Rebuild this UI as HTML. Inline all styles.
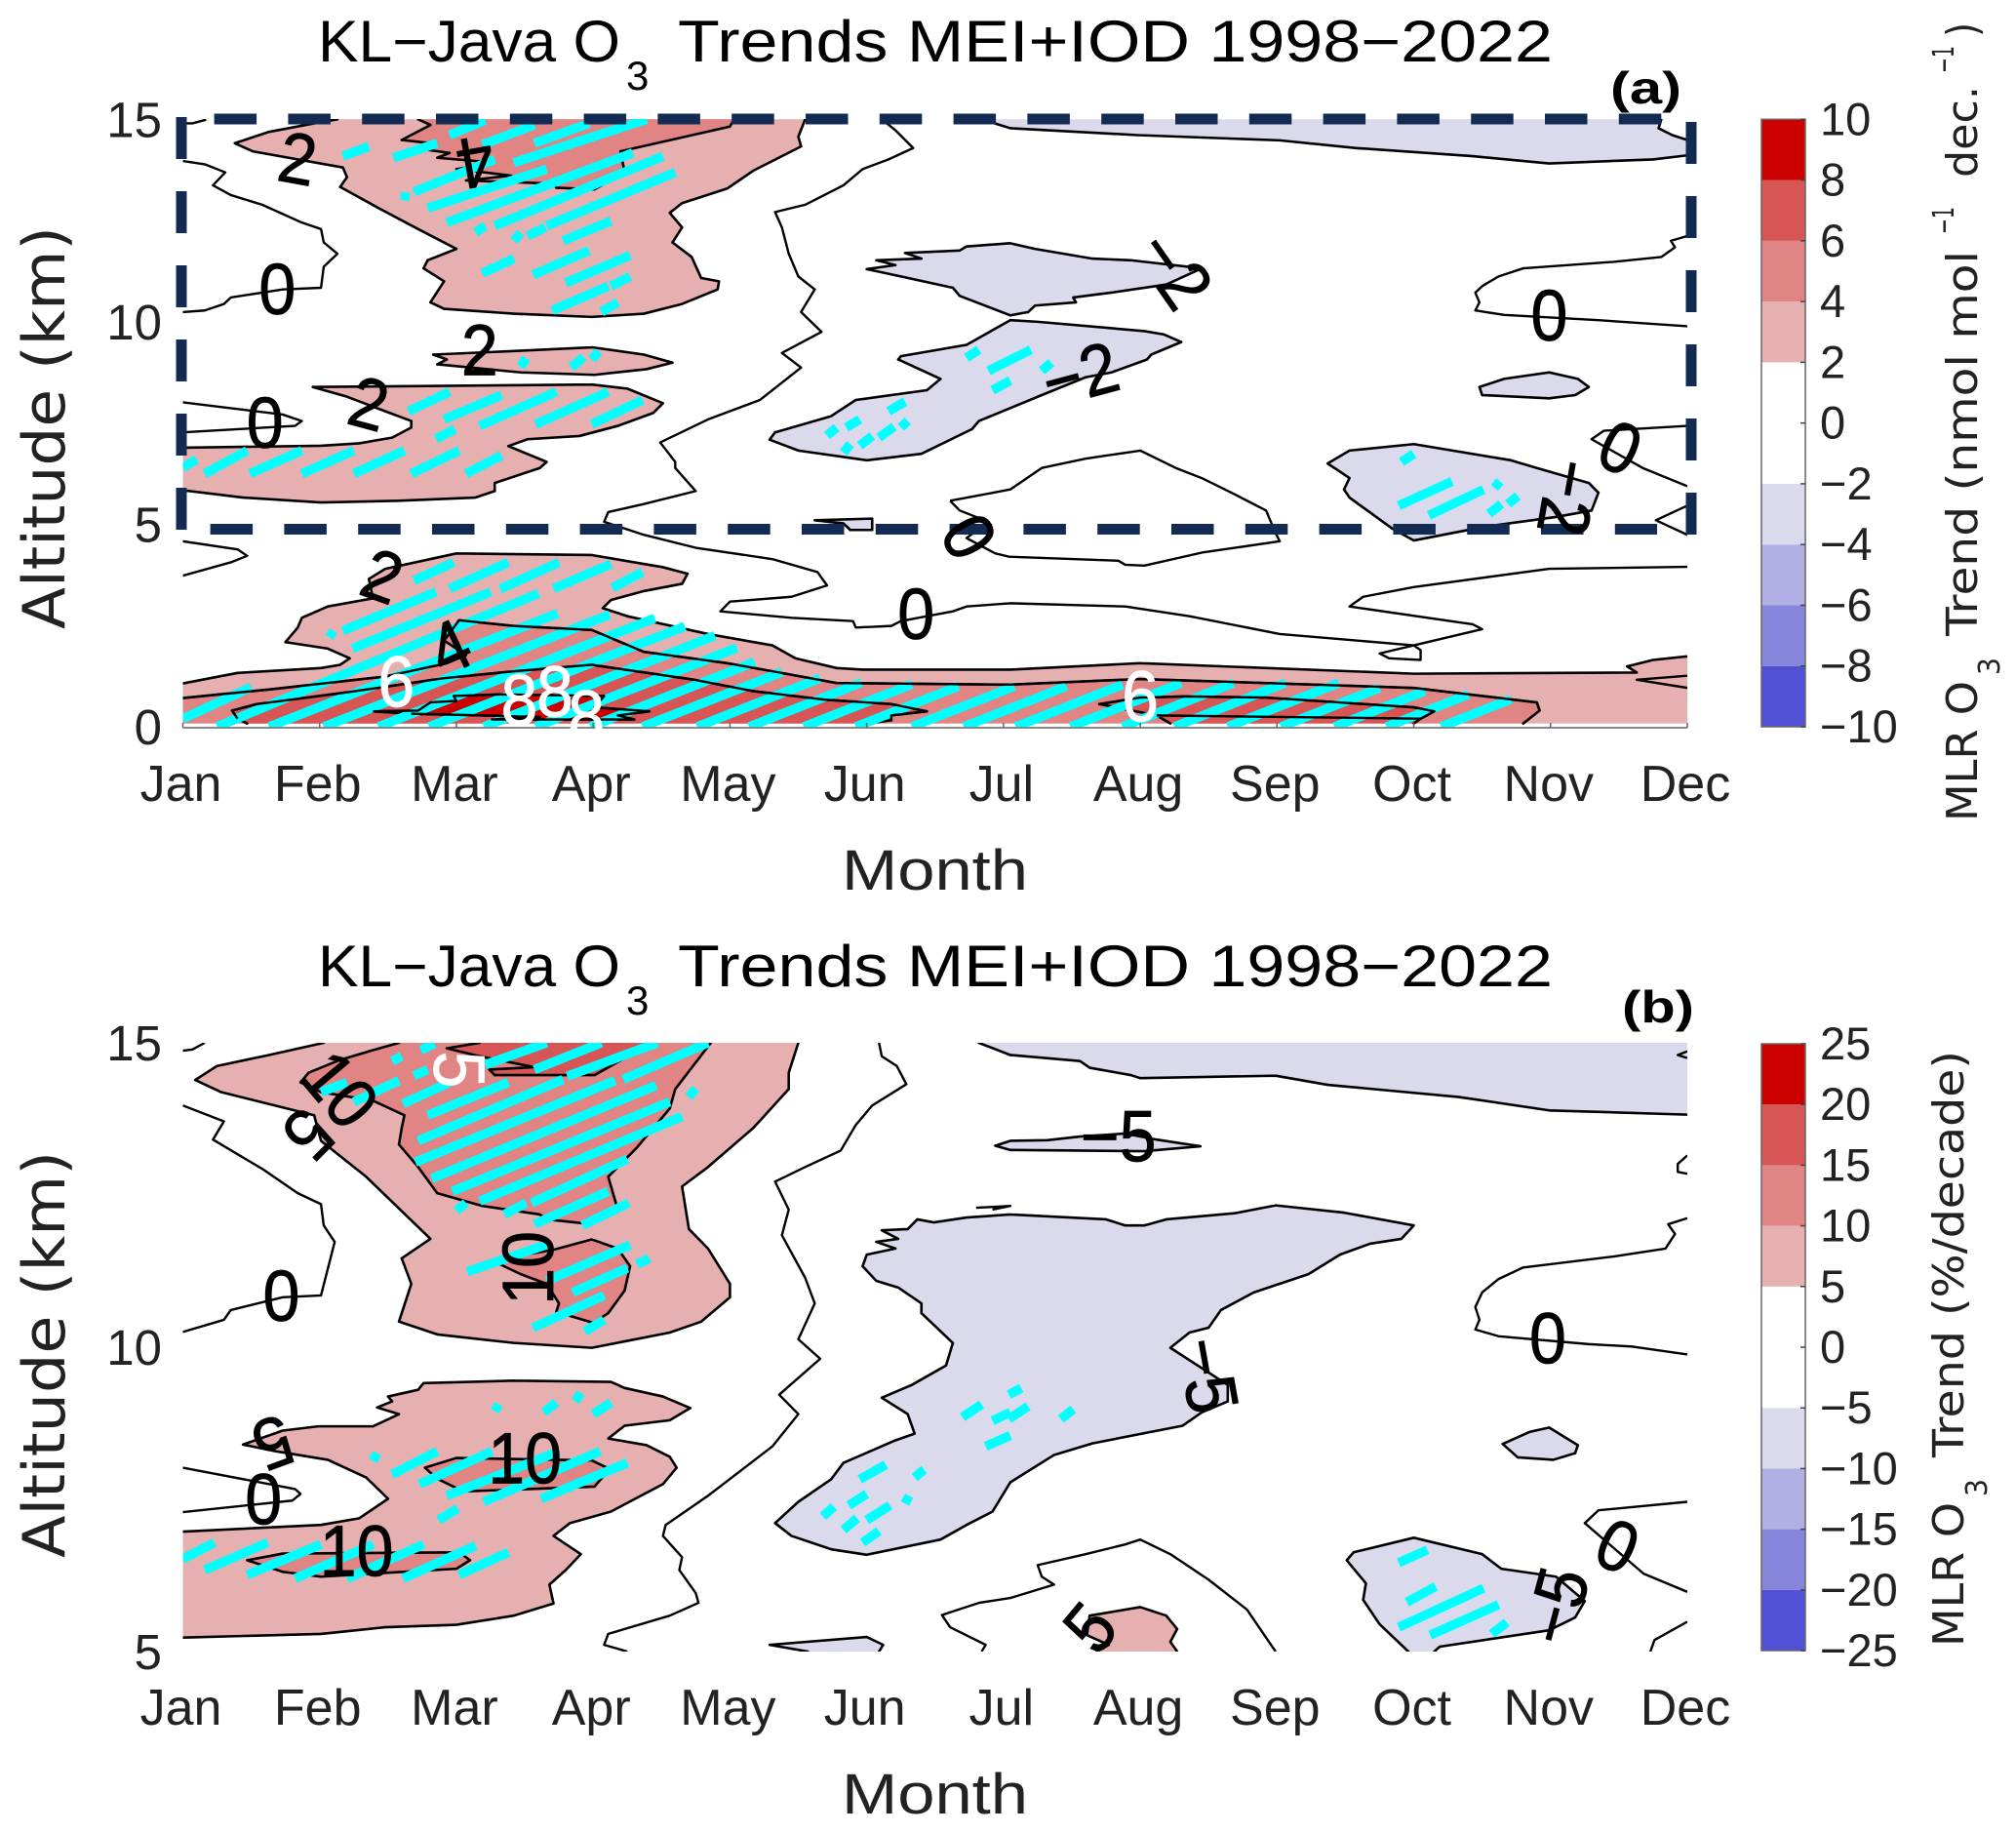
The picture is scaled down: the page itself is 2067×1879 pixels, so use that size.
<!DOCTYPE html>
<html lang="en">
<head>
<meta charset="utf-8">
<title>KL-Java O3 Trends MEI+IOD 1998-2022</title>
<style>
html,body{margin:0;padding:0;background:#fff;}
svg{display:block;}
text{font-family:"Liberation Sans",sans-serif;}
.dv{font-family:"DejaVu Sans",sans-serif;fill:#222;}
</style>
</head>
<body>
<svg id="chart" xmlns="http://www.w3.org/2000/svg" width="2067" height="1879" viewBox="0 0 2067 1879">
<rect width="2067" height="1879" fill="#fff"/>
<defs>
<clipPath id="clipA"><rect x="187.5" y="122" width="1542.5" height="623"/></clipPath>
<clipPath id="clipB"><rect x="187.5" y="1069" width="1542.5" height="624"/></clipPath>
</defs>
<g id="panelA"></g>
<g id="panelB"></g>
<g id="box" fill="none" stroke="#132B52" stroke-width="11">
<path d="M219.6 122H1704" stroke-dasharray="43.5 32.3"/>
<path d="M215.6 542.5H1699" stroke-dasharray="43.5 32.3"/>
<path d="M186 543V117" stroke-dasharray="43 33"/>
<path d="M1734 548V123" stroke-dasharray="43 33"/>
</g>
<g id="labelsLayer"></g>
<g id="ticksLayer"></g>

<g fill="#000">
<text x="326" y="63" font-size="60" textLength="310" lengthAdjust="spacingAndGlyphs">KL−Java O</text>
<text x="642" y="92" font-size="42">3</text>
<text x="695" y="63" font-size="60" textLength="897" lengthAdjust="spacingAndGlyphs">Trends MEI+IOD 1998−2022</text>
</g>
<g fill="#000">
<text x="326" y="1011" font-size="60" textLength="310" lengthAdjust="spacingAndGlyphs">KL−Java O</text>
<text x="642" y="1040" font-size="42">3</text>
<text x="695" y="1011" font-size="60" textLength="897" lengthAdjust="spacingAndGlyphs">Trends MEI+IOD 1998−2022</text>
</g>
<text x="1651" y="106" font-size="46" font-weight="700" textLength="73" lengthAdjust="spacingAndGlyphs">(a)</text>
<text x="1663" y="1048" font-size="46" font-weight="700" textLength="74" lengthAdjust="spacingAndGlyphs">(b)</text>

<text x="863" y="912" font-size="58" fill="#222" textLength="191" lengthAdjust="spacingAndGlyphs">Month</text>
<text x="863" y="1859" font-size="58" fill="#222" textLength="191" lengthAdjust="spacingAndGlyphs">Month</text>
<text class="dv" transform="translate(66,645) rotate(-90)" font-size="60" textLength="413" lengthAdjust="spacingAndGlyphs">Altitude (km)</text>
<text class="dv" transform="translate(66,1597) rotate(-90)" font-size="60" textLength="417" lengthAdjust="spacingAndGlyphs">Altitude (km)</text>

<g class="dv">
<text class="dv" transform="translate(2027,842) rotate(-90)" font-size="44" textLength="144" lengthAdjust="spacingAndGlyphs">MLR O</text>
<text class="dv" transform="translate(2050,692) rotate(-90)" font-size="30" textLength="18" lengthAdjust="spacingAndGlyphs">3</text>
<text class="dv" transform="translate(2027,652) rotate(-90)" font-size="44" textLength="395" lengthAdjust="spacingAndGlyphs">Trend (nmol mol</text>
<text class="dv" transform="translate(2003,240) rotate(-90)" font-size="30" textLength="28" lengthAdjust="spacingAndGlyphs">−1</text>
<text class="dv" transform="translate(2027,182) rotate(-90)" font-size="44" textLength="94" lengthAdjust="spacingAndGlyphs">dec.</text>
<text class="dv" transform="translate(2003,75) rotate(-90)" font-size="30" textLength="28" lengthAdjust="spacingAndGlyphs">−1</text>
<text class="dv" transform="translate(2027,38) rotate(-90)" font-size="44" textLength="15" lengthAdjust="spacingAndGlyphs">)</text>
</g>
<g>
<text class="dv" transform="translate(2013,1688) rotate(-90)" font-size="44" textLength="148" lengthAdjust="spacingAndGlyphs">MLR O</text>
<text class="dv" transform="translate(2037,1534) rotate(-90)" font-size="30" textLength="18" lengthAdjust="spacingAndGlyphs">3</text>
<text class="dv" transform="translate(2013,1494) rotate(-90)" font-size="44" textLength="417" lengthAdjust="spacingAndGlyphs">Trend (%/decade)</text>
</g>
</svg>

<script>
/* ---------- axis / category data ---------- */
const months = ['Jan','Feb','Mar','Apr','May','Jun','Jul','Aug','Sep','Oct','Nov','Dec'];
const altTicksA = [0,5,10,15];
const altTicksB = [5,10,15];
const cbarLevelsA = [-10,-8,-6,-4,-2,2,4,6,8,10];
const cbarTicksA = [-10,-8,-6,-4,-2,0,2,4,6,8,10];
const cbarLevelsB = [-25,-20,-15,-10,-5,5,10,15,20,25];
const cbarTicksB = [-25,-20,-15,-10,-5,0,5,10,15,20,25];
const cbarBandColors = ['#5050D4','#8585DC','#B0B0E4','#DADAEC','#FFFFFF','#E6B0B0','#E08484','#D85555','#CC0000'];

/* ---------- panel (a) filled contour regions: [month, km] ---------- */
const aPos2Upper = [[2.13,15],[1.96,14.9],[1.63,14.69],[1.38,14.41],[1.51,14.21],[2.17,13.81],[2.2,13.57],[2.15,13.33],[2.43,12.81],[2.72,12.29],[3,11.8],[2.79,11.52],[2.76,11.32],[2.91,11],[2.81,10.48],[2.91,10.32],[3.42,10.2],[3.99,10.12],[4.37,10.2],[4.65,10.44],[4.91,10.8],[4.92,11],[4.79,11.08],[4.72,11.6],[4.58,11.96],[4.65,12.33],[4.56,12.69],[4.65,12.93],[4.98,13.29],[5.17,13.73],[5.52,14.33],[5.5,14.57],[5.55,15]];
const aPos4Upper = [[2.72,15],[2.81,14.86],[2.6,14.49],[2.81,14.41],[2.69,14.29],[2.95,14.17],[2.86,14.05],[3.28,13.93],[3,13.77],[3.4,13.61],[3.07,13.49],[3.71,13.41],[3.73,13.31],[4.01,13.27],[4.23,13.69],[4.2,14.21],[5,14.82],[5.03,15]];
const aPos2Thin = [[2.83,9.19],[3.5,9.29],[3.99,9.37],[4.37,9.19],[4.58,8.99],[4.39,8.83],[4.01,8.69],[3.47,8.75],[2.86,8.95],[2.93,9.07]];
const aPos2Mid = [[1,6.89],[2.01,6.94],[2.29,7],[2.53,7.14],[2.67,7.39],[2.67,7.55],[2.48,7.79],[2.2,8.15],[1.95,8.39],[3.99,8.45],[4.25,8.35],[4.51,7.99],[4.44,7.75],[4.18,7.43],[3.9,7.18],[3.52,7.1],[3.38,6.93],[3.66,6.54],[3.61,6.39],[3.28,6.02],[3.28,5.82],[3.14,5.66],[2.58,5.58],[2.01,5.54],[1.44,5.66],[1,5.84]];
const aPos2Lower = [[1,1.07],[1.4,1.33],[2.01,1.45],[2.15,1.53],[2.22,1.69],[2.06,1.93],[1.75,2.09],[1.84,2.45],[1.87,2.69],[2.06,2.97],[2.39,3.17],[2.36,3.65],[2.48,3.9],[3,4.28],[3.99,4.24],[4.51,3.94],[4.69,3.78],[4.65,3.53],[4.37,3.35],[4.13,3.13],[4.07,2.93],[4.25,2.73],[4.84,2.29],[5.31,2.01],[5.48,1.69],[5.78,1.45],[5.97,1.41],[7.05,1.41],[8,1.57],[10,1.31],[11.63,1.34],[11.56,1.49],[11.75,1.65],[12,1.74],[12,0.08],[1,0.08]];
const aPos4Lower = [[1,0.71],[1.63,0.92],[2.48,1.24],[2.93,1.57],[3.07,1.77],[2.91,2.13],[3.02,2.63],[3.42,2.49],[3.99,2.39],[4.37,1.85],[4.98,1.57],[5.31,1.37],[5.78,1.08],[7.05,1.04],[8,1.18],[10,0.96],[10.9,0.6],[10.92,0.4],[10.8,0.08],[1,0.08]];
const aPos6Left = [[1.47,0.08],[1.4,0.2],[1.36,0.4],[1.54,0.56],[2.22,0.86],[2.91,1.2],[3.42,1.37],[3.99,1.53],[4.74,1.16],[5.17,0.88],[5.69,0.67],[6.18,0.56],[6.44,0.38],[6.18,0.28],[6.18,0.16],[6,0.08]];
const aPos6Right = [[7.7,0.56],[8,0.72],[8.33,0.75],[8.92,0.72],[10,0.48],[10.15,0.38],[10.05,0.2],[10,0.08],[8.22,0.08],[8.12,0.28]];
const aPos8 = [[2.39,0.38],[2.72,0.4],[2.81,0.6],[3,0.64],[2.98,0.76],[3.33,0.8],[4.08,0.76],[4.01,0.48],[4.41,0.38],[4.18,0.28],[4.3,0.18],[3.26,0.18],[3.61,0.24],[3.19,0.28],[2.67,0.32]];
const aNeg2Top = [[6.84,15],[7.05,14.78],[7.98,14.61],[9.02,14.48],[9.58,14.29],[10.43,14.09],[10.99,13.91],[11.75,14.01],[12,14.11],[12,14.49],[11.89,14.61],[11.79,14.78],[11.81,15]];
const aNeg2Upper = [[6.07,11.52],[6.4,11.56],[6.28,11.7],[6.68,11.76],[6.73,11.86],[7.05,11.94],[7.23,11.8],[7.65,11.56],[7.93,11.52],[8.45,11.32],[8.19,10.92],[7.79,10.72],[7.51,10.6],[7.53,10.48],[7.23,10.4],[7.18,10.24],[7.05,10.16],[6.68,10.64],[6.63,10.84],[6.25,11.12],[6,11.3],[6.21,11.4]];
const aNeg2Lower = [[7.05,10.04],[6.73,9.43],[6.25,9.15],[6.23,9.07],[6.54,8.59],[6.44,8.31],[5.92,8.07],[5.74,7.67],[5.33,7.27],[5.29,7.09],[5.5,6.82],[6,6.58],[6.4,6.74],[6.77,7.35],[6.82,7.55],[7.05,7.87],[7.28,8.19],[7.6,8.63],[7.79,8.75],[8.05,9.07],[8.08,9.19],[8.3,9.5],[8.17,9.69],[8.03,9.77],[7.25,10]];
const aNeg2Small = [[10.48,8.39],[10.66,8.59],[10.99,8.75],[11.2,8.59],[11.28,8.39],[11.18,8.19],[10.99,8.11],[10.5,8.19]];
const aNeg2Right = [[9.37,6.5],[9.53,6.82],[10,6.98],[10.71,6.58],[10.9,6.39],[11.28,6.02],[11.35,5.78],[11.3,5.34],[11.04,5.18],[10.52,4.94],[10,4.6],[9.84,4.9],[9.53,5.66],[9.49,5.86],[9.53,6.14],[9.42,6.39]];
const aNeg2Tiny = [[5.62,5.1],[6.04,5.14],[6.04,4.86],[5.88,4.86],[5.83,5.02]];

/* ---------- panel (a) zero contours ---------- */
const aZeroCorner = [[1,14.9],[1.07,14.9],[1.17,14.99]];
const aZeroLeftUpper = [[1,13.97],[1.16,13.89],[1.31,13.69],[1.22,13.37],[1.35,13.13],[1.58,12.89],[1.87,12.45],[2.01,12.29],[2.03,11.96],[2.13,11.68],[2.03,11.36],[2.01,10.84],[1.73,10.8],[1.35,10.6],[1.3,10.44],[1.16,10.28],[1,10.24]];
const aZeroLeftNose = [[1,8.01],[1.73,7.71],[1.87,7.55],[1.82,7.43],[1,7.27]];
const aZeroCentral = [[6.11,15],[6.21,14.73],[6.34,14.29],[6.16,14.01],[5.97,13.77],[5.83,13.37],[5.55,12.89],[5.33,12.71],[5.38,12.33],[5.43,11.68],[5.5,11.12],[5.62,10.8],[5.52,10.24],[5.67,9.75],[5.38,9.23],[5.52,8.87],[5.22,8.07],[4.84,7.59],[4.49,7.02],[4.6,6.54],[4.6,6.39],[4.75,5.82],[4.37,5.5],[4.11,5.3],[4.08,5.06],[4.37,4.74],[4.75,4.42],[5.31,4.14],[5.64,3.82],[5.71,3.49],[5.45,3.21],[5,3.09],[4.93,2.85],[5.45,2.69],[5.9,2.61],[5.92,2.45],[6.18,2.49],[6.25,2.61],[6.63,2.85],[6.73,2.97],[7.05,3.05],[7.89,2.97],[8.36,2.73],[9.02,2.29],[10,2.01],[10.5,2.41],[10.43,2.53],[9.53,2.97],[9.63,3.21],[10,3.45],[10.99,3.9],[12,3.95]];
const aZeroLoop = [[10,2.01],[9.75,1.81],[9.82,1.69],[10.05,1.65],[10.05,1.89],[10,2.01]];
const aZeroLowLeft = [[1,4.58],[1.4,4.38],[1.47,4.22],[1.35,4.06],[1,3.73]];
const aZeroBubble = [[6.61,5.58],[7.05,5.86],[7.28,6.39],[7.6,6.62],[8,6.82],[8.26,6.39],[8.45,6.14],[8.69,5.74],[8.92,5.34],[8.99,4.78],[9.02,4.58],[8.45,4.3],[8.03,3.98],[7.89,4],[7.84,4.1],[7.04,4.2],[6.94,4.28],[6.73,4.66],[6.89,5.06],[6.68,5.34],[6.61,5.58]];
const aZeroRightUpper = [[12,12.12],[11.88,12],[11.91,11.84],[11.81,11.6],[11.46,11.48],[10.8,11.32],[10.62,11.12],[10.5,10.88],[10.45,10.72],[10.48,10.48],[10.45,10.28],[10.66,10.17],[11.35,10.04],[12,9.89]];
const aZeroRightNose = [[12,7.43],[11.39,7.31],[11.3,7.1],[11.68,6.38],[12,5.94]];
const aZeroRightTip = [[12,5.46],[11.77,5.1],[12,4.74]];
const aLevelNotch = [[12,1.26],[11.63,1.16],[12,0.96]];

/* ---------- panel (a) significance stripes: [m1, km1, m2, km2] ---------- */
const aHatchUpper = [[2.17,14.09,2.36,14.33],[2.54,14.05,2.86,14.41],[2.95,14.61,3.21,14.98],[3.19,14.37,3.57,14.86],[3.57,14.41,3.97,14.9],[3.42,13.93,4.39,15],[2.69,13.21,3.28,14.01],[2.79,12.81,3.66,13.77],[2.93,12.45,4.29,14.17],[3.28,12.37,4.51,14.09],[3.66,12.37,4.6,13.69],[3.78,12,4.13,12.49],[3.19,11.2,3.42,11.56],[3.56,11.16,3.97,11.76],[3.8,10.96,4.27,11.64],[3.7,10.28,4.11,10.88],[4.13,10.88,4.27,11.12],[4.06,10.24,4.18,10.48],[3.14,12.2,3.21,12.37],[3.42,12,3.47,12.2],[3.52,12.12,3.65,12.33],[2.62,13,2.63,13.2],[3.47,8.89,3.51,9.1],[3.84,8.87,3.93,9.13],[3.99,9.07,4.04,9.27]];
const aHatchMid = [[2.65,7.79,2.95,8.27],[2.91,7.59,3.33,8.19],[3.17,7.43,3.73,8.27],[3.58,7.47,4.11,8.27],[3.99,7.47,4.36,8.07],[2.85,7.11,2.99,7.35],[1,6.4,1.1,6.6],[1.16,6.25,1.47,6.82],[1.49,6.25,1.87,6.82],[1.87,6.25,2.25,6.82],[2.25,6.25,2.62,6.82],[2.67,6.25,3.02,6.82],[3.07,6.25,3.33,6.7]];
const aHatchLowerTop = [[2.69,3.61,2.98,4.06],[2.95,3.41,3.38,4.06],[3.32,3.4,3.75,4.06],[3.71,3.41,4.13,4.02],[4.14,3.43,4.36,3.82],[2.17,2.37,2.85,3.33],[2.24,1.93,3.25,3.33],[2.07,2.21,2.1,2.37]];
const aHatchSurface = [[1,0.2,1.5,0.98],[1.25,0,3.6,3.29],[1.63,0,3.74,2.8],[2.03,0,4.12,2.77],[2.43,0,4.45,2.68],[2.8,0,4.67,2.48],[3.2,0,4.89,2.25],[3.58,0,5.05,1.95],[3.98,0,5.18,1.6],[4.36,0,5.38,1.35],[4.76,0,5.66,1.2],[5.14,0,5.96,1.09],[5.54,0,6.33,1.05],[5.92,0,6.67,1],[6.33,0,7.08,1],[6.71,0,7.46,1],[7.09,0,7.87,1.04],[7.49,0,8.3,1.08],[7.87,0,8.68,1.08],[8.25,0,9.06,1.08],[8.64,0,9.45,1.08],[9.03,0,9.75,0.96],[9.42,0,10.08,0.88],[9.8,0,10.4,0.8],[10.2,0,10.71,0.68]];
const aHatchNeg = [[5.71,7.19,5.78,7.39],[5.85,7.39,5.95,7.59],[5.95,6.94,6.04,7.18],[6.09,7.14,6.2,7.41],[6.25,7.39,6.3,7.55],[6.16,7.79,6.28,8.03],[5.83,6.77,5.88,6.98],[6.73,9.11,6.82,9.31],[6.89,8.79,7.2,9.31],[6.92,8.31,7.05,8.55],[7.28,8.79,7.35,8.99],[9.91,6.54,10,6.74],[9.89,5.46,10.28,6.06],[10.11,5.22,10.51,5.86],[10.55,5.26,10.64,5.5],[10.69,5.5,10.76,5.7],[10.59,5.9,10.63,6.06]];

/* ---------- panel (a) inline labels: [text, month, km, rotation, colour] ---------- */
const aLabels = [['2',1.84,14.04,10,'#000'],['4',3.14,13.93,170,'#000'],['0',1.69,10.82,0,'#000'],['2',3.17,9.31,0,'#000'],['2',2.36,7.99,15,'#000'],['0',1.6,7.52,0,'#000'],['4',2.95,1.98,-25,'#000'],['2',2.46,3.73,20,'#000'],['6',2.56,1.12,0,'#fff'],['8',3.46,0.68,0,'#fff'],['8',3.72,0.88,0,'#fff'],['8',3.95,0.28,0,'#fff'],['6',8,0.76,0,'#fff'],['0',6.36,2.8,0,'#000'],['0',6.75,4.7,60,'#000'],['−2',8.25,11.3,55,'#000'],['−2',7.56,8.71,-15,'#000'],['0',10.99,10.16,0,'#000'],['0',11.51,6.9,25,'#000'],['−2',11.13,5.66,100,'#000']];

/* ---------- panel (b) filled contour regions ---------- */
const bPos5Upper = [[2.03,15],[1.63,14.8],[1.25,14.62],[1.09,14.39],[1.28,14.19],[1.96,13.81],[2.01,13.39],[2.34,12.8],[2.81,11.78],[2.6,11.46],[2.67,11.04],[2.58,10.42],[2.86,10.21],[3.42,10.07],[3.99,9.99],[4.56,10.24],[4.79,10.42],[5,10.82],[5,11.04],[4.84,11.62],[4.7,11.94],[4.65,12.64],[4.84,12.96],[5.17,13.6],[5.43,14.24],[5.43,14.51],[5.5,15]];
const bPos10Upper = [[2.58,15],[2.39,14.88],[2.15,14.72],[1.92,14.51],[1.86,14.35],[2.01,14.19],[2.39,14.05],[2.62,13.81],[2.6,13.6],[2.58,13.33],[2.72,12.96],[2.86,12.53],[3.19,12.32],[3.61,12.18],[3.66,12.1],[3.99,12.02],[4.18,12.26],[4.11,12.8],[4.32,13.28],[4.56,13.92],[4.6,14.24],[4.84,14.94],[4.86,15]];
const bPos15Top = [[3.17,15],[2.93,14.91],[3.17,14.78],[3.57,14.6],[3.24,14.56],[3.28,14.47],[4.01,14.47],[4.38,14.94],[4.38,15]];
const bPos10Pocket = [[3.99,11.77],[4.18,11.62],[4.27,11.33],[4.23,10.93],[4.11,10.56],[4,10.4],[3.73,10.58],[3.75,10.72],[3.66,11.04],[3.47,11.2],[3.32,11.36],[3.42,11.49],[3.71,11.6]];
const bPos5Lower = [[1,6.97],[2.01,7.08],[2.29,7.19],[2.5,7.51],[2.34,7.86],[2.06,8.15],[1.68,8.29],[1.44,8.4],[1.73,8.63],[1.99,8.7],[2.39,8.7],[2.58,8.9],[2.42,9.01],[2.53,9.11],[2.5,9.19],[2.72,9.3],[2.76,9.41],[3.42,9.45],[4.13,9.43],[4.23,9.33],[4.51,9.19],[4.71,9],[4.56,8.8],[4.23,8.71],[4.11,8.5],[4.39,8.39],[4.56,8.2],[4.61,8.02],[4.51,7.75],[4.13,7.3],[3.83,7.11],[3.71,6.9],[3.91,6.6],[3.8,6.34],[3.68,6.1],[3.71,5.79],[3.42,5.59],[3,5.44],[2.48,5.4],[2.01,5.29],[1,5.23]];
const bPos10Upper8 = [[2.77,8.02],[3,8.18],[3.99,8.14],[4.12,8],[4.01,7.71],[3.05,7.63],[2.86,7.84]];
const bPos10Lower6 = [[1.47,6.5],[1.73,6.61],[3.02,6.63],[3.1,6.5],[3,6.36],[2.01,6.23],[1.73,6.31]];
const bPos5Aug = [[7.68,5],[7.77,5.11],[7.61,5.27],[7.63,5.59],[8,5.73],[8.19,5.59],[8.27,5.37],[8.22,5.16],[8.27,5]];
const bNeg5Top = [[6.82,15],[7.05,14.8],[7.56,14.7],[7.63,14.59],[7.93,14.47],[8,14.42],[8.99,14.46],[9.37,14.31],[10.33,14.11],[10.99,13.89],[12,13.82],[12,15]];
const bNeg5Sliver = [[6.94,13.31],[7.05,13.39],[7.32,13.4],[7.56,13.46],[7.89,13.51],[8.12,13.41],[8.44,13.3],[8.03,13.22],[7.05,13.24]];
const bNeg5Main = [[7.05,12.18],[6.73,12.13],[6.49,12.05],[6.37,12.1],[6.3,11.94],[6.11,11.92],[6.23,11.78],[6.07,11.73],[6.21,11.62],[6,11.52],[5.97,11.33],[6.07,11.09],[6.23,10.98],[6.4,10.72],[6.4,10.56],[6.63,10.07],[6.58,9.7],[6.33,9.38],[6.11,9.17],[6.3,8.9],[6.35,8.58],[6.21,8.47],[5.83,8.1],[5.74,7.83],[5.5,7.46],[5.33,7.11],[5.45,6.9],[5.74,6.68],[6,6.59],[6.54,6.84],[6.73,7.08],[6.92,7.3],[7.05,7.78],[7.37,8.23],[7.65,8.42],[8.31,8.71],[8.45,8.93],[8.64,9.11],[8.64,9.38],[8.22,9.99],[8.36,10.24],[8.5,10.32],[8.59,10.61],[8.83,10.9],[9.23,11.2],[9.46,11.52],[9.68,11.7],[9.91,11.78],[10,12],[9.49,12.21],[8.99,12.33],[8.69,12.2],[8.19,12.1],[8.03,12],[7.89,12],[7.75,12.1]];
const bNeg5Small = [[10.65,8.41],[10.85,8.61],[10.99,8.68],[11.2,8.39],[11.18,8.26],[11.02,8.15],[10.76,8.19]];
const bNeg5Right = [[9.51,6.5],[9.56,6.63],[10,6.87],[10.5,6.6],[10.64,6.36],[11.04,6.23],[11.25,5.83],[11.18,5.56],[10.99,5.35],[10.19,5.08],[10.15,5],[9.96,5],[9.75,5.45],[9.63,5.85],[9.65,6.12]];
const bNeg5Base = [[5.29,5.11],[6,5.24],[6.12,5.11],[6.09,5],[5.57,5]];

/* ---------- panel (b) zero contours ---------- */
const bZeroCorner = [[1,14.87],[1.07,14.89],[1.16,15]];
const bZeroLeftUpper = [[1,13.97],[1.3,13.71],[1.22,13.41],[1.58,12.93],[1.84,12.53],[2.01,12.35],[2.03,12],[2.11,11.73],[2.01,10.85],[1.73,10.82],[1.35,10.61],[1.3,10.45],[1,10.25]];
const bZeroLeftNose = [[1,8.02],[1.82,7.67],[1.86,7.59],[1.8,7.48],[1,7.29]];
const bZeroCentral = [[6.09,15],[6.11,14.78],[6.22,14.62],[6.29,14.32],[6.04,13.97],[5.92,13.65],[5.81,13.23],[5.55,12.96],[5.33,12.72],[5.43,12.26],[5.38,11.84],[5.55,11.14],[5.62,10.72],[5.5,10.13],[5.66,9.81],[5.36,9.22],[5.5,8.9],[5.31,8.37],[4.84,7.56],[4.53,7.08],[4.51,6.9],[4.65,6.55],[4.63,6.34],[4.75,5.96],[4.77,5.8],[4.56,5.59],[4.11,5.29],[4.08,5.11],[4.25,5]];
const bZeroBubble = [[6.84,5],[6.87,5.11],[6.61,5.4],[6.55,5.6],[6.82,5.8],[7.05,5.88],[7.37,6.1],[7.28,6.23],[7.25,6.42],[7.6,6.6],[7.89,6.76],[8,6.84],[8.22,6.6],[8.5,6.18],[8.78,5.69],[8.99,5]];
const bZeroRightUpper = [[12,12.12],[11.86,12.02],[11.91,11.86],[11.84,11.62],[11.46,11.49],[10.8,11.31],[10.62,11.12],[10.5,10.9],[10.45,10.66],[10.48,10.45],[10.45,10.29],[10.62,10.18],[11.28,10.05],[11.6,10.01],[12,9.88]];
const bZeroRightNose = [[12,7.46],[11.35,7.32],[11.25,7.11],[11.68,6.28],[12,5.98]];
const bZeroRightBase = [[12,5.49],[11.76,5.19],[11.73,5]];
const bEdgeTick1 = [[12,14.86],[11.93,14.8],[12,14.75]];
const bEdgeTick2 = [[12,13.15],[11.93,13.01],[11.93,12.88],[12,12.85]];
const bThinDash = [[6.8,12.29],[7.05,12.32],[6.92,12.26]];

/* ---------- panel (b) significance stripes ---------- */
const bHatchUpper = [[2.74,14.88,2.84,14.99],[2.53,14.7,2.6,14.78],[2.69,14.46,2.79,14.56],[3.21,14.64,3.66,15],[3.57,14.56,4.06,15],[3.81,14.45,4.47,15],[4.22,14.4,4.84,15],[2.61,14,2.95,14.35],[2.79,13.81,3.38,14.35],[2.72,13.39,3.78,14.4],[2.7,13.04,4.16,14.38],[2.82,12.77,4.46,14.3],[2.97,12.56,4.56,14.03],[3.17,12.4,4.65,13.79],[3.55,12.37,4.25,13.09],[3.35,12.18,3.51,12.37],[3.57,12.02,4.11,12.56],[3.92,12,4.26,12.37],[4.7,14.11,4.75,14.25],[3,12.24,3.07,12.37],[2.01,14.19,2.2,14.35],[2.25,14.03,2.58,14.38],[3.08,11.24,3.68,11.7],[3.66,11.09,4.27,11.68],[3.85,10.9,4.25,11.3],[3.56,10.32,4.08,10.85],[3.94,10.26,4.08,10.45],[4.32,11.36,4.41,11.46]];
const bHatchLower = [[2.53,7.91,2.86,8.29],[2.39,8.13,2.42,8.26],[2.73,7.75,3.26,8.29],[2.93,7.56,3.75,8.29],[3.2,7.46,4.05,8.29],[3.62,7.51,4.25,8.1],[2.87,7.16,3.01,7.35],[1,6.52,1.23,6.79],[1.16,6.34,1.62,6.79],[1.47,6.26,2.01,6.76],[1.82,6.2,2.39,6.76],[2.2,6.2,2.76,6.76],[2.61,6.2,3.14,6.74],[3.02,6.26,3.38,6.63],[3.28,8.95,3.31,9.06],[3.64,8.93,3.73,9.09],[3.87,9.11,3.91,9.25],[4,8.9,4.13,9.09]];
const bHatchNeg = [[6.7,8.85,6.84,9.06],[5.95,7.83,6.14,8.07],[6.35,7.86,6.42,7.99],[5.68,7.22,5.76,7.38],[5.87,7.4,6,7.59],[6,7.16,6.17,7.4],[5.83,7,5.93,7.19],[6.28,7.43,6.31,7.56],[5.97,6.79,6.09,6.98],[6.87,8.37,7.05,8.55],[7.04,8.82,7.18,9.03],[6.92,8.79,7.05,8.93],[7.42,8.82,7.51,8.98],[7.04,9.22,7.13,9.33],[9.89,6.46,10.1,6.67],[9.95,5.81,10.16,6.07],[9.89,5.4,10.51,6.04],[10.12,5.27,10.62,5.77],[10.57,5.29,10.68,5.48]];

/* ---------- panel (b) inline labels ---------- */
const bLabels = [['10',2.15,14.24,50,'#000'],['5',1.92,13.49,135,'#000'],['5',3.02,14.56,90,'#fff'],['10',3.52,11.3,-90,'#000'],['0',1.72,10.85,0,'#000'],['−5',7.84,13.47,0,'#000'],['0',10.98,10.15,0,'#000'],['−5',8.5,9.54,80,'#000'],['5',1.66,8.42,160,'#000'],['0',1.59,7.51,0,'#000'],['10',3.5,8.18,0,'#000'],['10',2.27,6.66,0,'#000'],['5',7.63,5.4,-50,'#000'],['−5',11.04,5.75,-75,'#000'],['0',11.49,6.74,25,'#000']];

/* ---------- axis functions ---------- */
const X0 = 187.5, X1 = 1730;
function xMonth(m){ return X0 + (m - 1) * (X1 - X0) / 11; }
function yA(km){ return 745 - km * (745 - 122.3) / 15; }
function yB(km){ return 1693 - (km - 5) * (1693 - 1069) / 10; }
function cbA(v){ return 745 - (v + 10) * (745 - 122.3) / 20; }
function cbB(v){ return 1692 - (v + 25) * (1692 - 1070) / 50; }

const SVGNS = 'http://www.w3.org/2000/svg';
function make(tag, parent){
  const el = document.createElementNS(SVGNS, tag);
  parent.appendChild(el);
  return el;
}
const panelA = document.getElementById('panelA');
const panelB = document.getElementById('panelB');
const labelsLayer = document.getElementById('labelsLayer');
const ticksLayer = document.getElementById('ticksLayer');

const fillOf = {'-2':'#DADAEC','2':'#E6B0B0','4':'#E08484','6':'#D85555','8':'#CC0000'};

function drawRegion(parent, pts, level, yFn, kmTop, kmBottom){
  const poly = make('polygon', parent);
  
  
  poly.setAttribute('points', pts.map(p => xMonth(p[0]) + ',' + yFn(p[1])).join(' '));
  poly.setAttribute('fill', fillOf[level]);
  let d = '';
  for (let i = 0; i < pts.length; i++){
    const a = pts[i], b = pts[(i + 1) % pts.length];
    const onEdge = (a[0] === b[0] && (a[0] === 1 || a[0] === 12)) ||
                   (a[1] === b[1] && (a[1] === kmTop || a[1] === kmBottom));
    if (!onEdge) d += 'M' + xMonth(a[0]) + ' ' + yFn(a[1]) + 'L' + xMonth(b[0]) + ' ' + yFn(b[1]);
  }
  const edge = make('path', parent);
  
  
  edge.setAttribute('d', d);
  edge.setAttribute('fill', 'none');
  edge.setAttribute('stroke', '#000');
  edge.setAttribute('stroke-width', '2.6');
  edge.setAttribute('stroke-linecap', 'round');
}
function drawLine(parent, pts, yFn){
  const line = make('polyline', parent);
  
  
  line.setAttribute('points', pts.map(p => xMonth(p[0]) + ',' + yFn(p[1])).join(' '));
  line.setAttribute('fill', 'none');
  line.setAttribute('stroke', '#000');
  line.setAttribute('stroke-width', '2.4');
  line.setAttribute('stroke-linejoin', 'round');
}
function drawHatch(parent, segs, yFn){
  segs.forEach(s => {
    const stripe = make('line', parent);
    
    
    stripe.setAttribute('x1', xMonth(s[0]));
    stripe.setAttribute('y1', yFn(s[1]));
    stripe.setAttribute('x2', xMonth(s[2]));
    stripe.setAttribute('y2', yFn(s[3]));
    stripe.setAttribute('stroke', '#00FFFF');
    stripe.setAttribute('stroke-width', '9.5');
  });
}
function drawLabels(items, yFn){
  items.forEach(l => {
    const t = make('text', labelsLayer);
    
    
    const px = xMonth(l[1]), py = yFn(l[2]);
    t.setAttribute('transform', 'translate(' + px + ',' + py + ') rotate(' + l[3] + ') scale(0.92,1)');
    t.setAttribute('text-anchor', 'middle');
    t.setAttribute('y', '26');
    t.setAttribute('font-size', '74');
    t.setAttribute('fill', l[4]);
    t.setAttribute('stroke', l[4]);
    t.setAttribute('stroke-width', '0.8');
    t.textContent = l[0];
  });
}
function drawTickText(txt, px, py, size, anchor){
  const t = make('text', ticksLayer);
  
  
  t.setAttribute('x', px);
  t.setAttribute('y', py);
  t.setAttribute('font-size', size);
  t.setAttribute('text-anchor', anchor);
  t.setAttribute('fill', '#222');
  t.textContent = txt;
}
function fmt(v){ return v < 0 ? '−' + Math.abs(v) : String(v); }

function drawColorbar(levels, ticks, scale, left, right){
  for (let i = 0; i < levels.length - 1; i++){
    const band = make('rect', ticksLayer);
    
    
    const top = scale(levels[i + 1]), bot = scale(levels[i]);
    band.setAttribute('x', left);
    band.setAttribute('y', top);
    band.setAttribute('width', right - left);
    band.setAttribute('height', bot - top);
    band.setAttribute('fill', cbarBandColors[i]);
  }
  const frame = make('rect', ticksLayer);
  
  
  frame.setAttribute('x', left);
  frame.setAttribute('y', scale(levels[levels.length - 1]));
  frame.setAttribute('width', right - left);
  frame.setAttribute('height', scale(levels[0]) - scale(levels[levels.length - 1]));
  frame.setAttribute('fill', 'none');
  frame.setAttribute('stroke', '#666');
  frame.setAttribute('stroke-width', '1.5');
  ticks.forEach(v => {
    const tick = make('line', ticksLayer);
    
    
    tick.setAttribute('x1', right - 5);
    tick.setAttribute('x2', right);
    tick.setAttribute('y1', scale(v));
    tick.setAttribute('y2', scale(v));
    tick.setAttribute('stroke', '#444');
    tick.setAttribute('stroke-width', '1.5');
    drawTickText(fmt(v), right + 15, scale(v) + 16, 47, 'start');
  });
}

/* ---------- panel (a) ---------- */
const gA = make('g', panelA);
gA.setAttribute('clip-path', 'url(#clipA)');


drawRegion(gA, aPos2Upper, 2, yA, 15, 0.08);
drawRegion(gA, aPos4Upper, 4, yA, 15, 0.08);
drawRegion(gA, aPos2Thin, 2, yA, 15, 0.08);
drawRegion(gA, aPos2Mid, 2, yA, 15, 0.08);
drawRegion(gA, aPos2Lower, 2, yA, 15, 0.08);
drawRegion(gA, aPos4Lower, 4, yA, 15, 0.08);
drawRegion(gA, aPos6Left, 6, yA, 15, 0.08);
drawRegion(gA, aPos6Right, 6, yA, 15, 0.08);
drawRegion(gA, aPos8, 8, yA, 15, 0.08);
drawRegion(gA, aNeg2Top, -2, yA, 15, 0.08);
drawRegion(gA, aNeg2Upper, -2, yA, 15, 0.08);
drawRegion(gA, aNeg2Lower, -2, yA, 15, 0.08);
drawRegion(gA, aNeg2Small, -2, yA, 15, 0.08);
drawRegion(gA, aNeg2Right, -2, yA, 15, 0.08);
drawRegion(gA, aNeg2Tiny, -2, yA, 15, 0.08);
drawHatch(gA, aHatchUpper, yA);
drawHatch(gA, aHatchMid, yA);
drawHatch(gA, aHatchLowerTop, yA);
drawHatch(gA, aHatchSurface, yA);
drawHatch(gA, aHatchNeg, yA);
[aZeroCorner, aZeroLeftUpper, aZeroLeftNose, aZeroCentral, aZeroLoop, aZeroLowLeft, aZeroBubble, aZeroRightUpper, aZeroRightNose, aZeroRightTip, aLevelNotch].forEach(l => drawLine(gA, l, yA));
/* redraw the inner contours above the stripes */
[aPos4Lower, aPos6Left, aPos6Right, aPos8].forEach(l => {
  const open = l.filter(p => p[1] !== 0.08);
  drawLine(gA, open, yA);
});

const axisA = make('line', panelA);


axisA.setAttribute('x1', X0);
axisA.setAttribute('x2', X1);
axisA.setAttribute('y1', 746);
axisA.setAttribute('y2', 746);
axisA.setAttribute('stroke', '#888');
axisA.setAttribute('stroke-width', '2');
months.forEach((name, i) => {
  const tick = make('line', panelA);
  
  
  tick.setAttribute('x1', xMonth(i + 1));
  tick.setAttribute('x2', xMonth(i + 1));
  tick.setAttribute('y1', 746);
  tick.setAttribute('y2', 741);
  tick.setAttribute('stroke', '#666');
  tick.setAttribute('stroke-width', '1.5');
  drawTickText(name, xMonth(i + 1) - 2, 821, 52, 'middle');
});
altTicksA.forEach(v => drawTickText(String(v), 166, yA(v) + 18, 51, 'end'));
drawLabels(aLabels, yA);
drawColorbar(cbarLevelsA, cbarTicksA, cbA, 1806, 1851);

/* ---------- panel (b) ---------- */
const gB = make('g', panelB);
gB.setAttribute('clip-path', 'url(#clipB)');


drawRegion(gB, bPos5Upper, 2, yB, 15, 5);
drawRegion(gB, bPos10Upper, 4, yB, 15, 5);
drawRegion(gB, bPos15Top, 6, yB, 15, 5);
drawRegion(gB, bPos10Pocket, 4, yB, 15, 5);
drawRegion(gB, bPos5Lower, 2, yB, 15, 5);
drawRegion(gB, bPos10Upper8, 4, yB, 15, 5);
drawRegion(gB, bPos10Lower6, 4, yB, 15, 5);
drawRegion(gB, bPos5Aug, 2, yB, 15, 5);
drawRegion(gB, bNeg5Top, -2, yB, 15, 5);
drawRegion(gB, bNeg5Sliver, -2, yB, 15, 5);
drawRegion(gB, bNeg5Main, -2, yB, 15, 5);
drawRegion(gB, bNeg5Small, -2, yB, 15, 5);
drawRegion(gB, bNeg5Right, -2, yB, 15, 5);
drawRegion(gB, bNeg5Base, -2, yB, 15, 5);
drawHatch(gB, bHatchUpper, yB);
drawHatch(gB, bHatchLower, yB);
drawHatch(gB, bHatchNeg, yB);
[bZeroCorner, bZeroLeftUpper, bZeroLeftNose, bZeroCentral, bZeroBubble, bZeroRightUpper, bZeroRightNose, bZeroRightBase, bEdgeTick1, bEdgeTick2, bThinDash].forEach(l => drawLine(gB, l, yB));
months.forEach((name, i) => drawTickText(name, xMonth(i + 1) - 2, 1768, 52, 'middle'));
altTicksB.forEach(v => drawTickText(String(v), 166, yB(v) + 18, 51, 'end'));
drawLabels(bLabels, yB);
drawColorbar(cbarLevelsB, cbarTicksB, cbB, 1806, 1851);
</script>
</body>
</html>
